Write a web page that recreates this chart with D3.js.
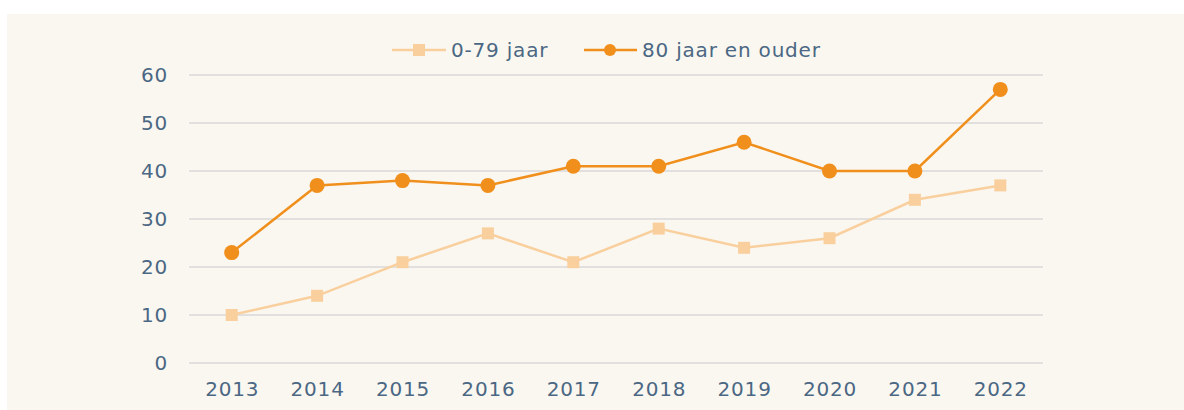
<!DOCTYPE html>
<html>
<head>
<meta charset="utf-8">
<script src="https://cdn.jsdelivr.net/npm/d3@7"></script>
<style>
  html, body { margin: 0; padding: 0; background: #ffffff; }
  svg { display: block; }
  text { font-family: "DejaVu Sans", Verdana, sans-serif; fill: #4b6784; letter-spacing: 0.8px; }
</style>
</head>
<body>
<svg id="chart" width="1184" height="410"></svg>
<script>
const years = ["2013","2014","2015","2016","2017","2018","2019","2020","2021","2022"];
const young = [10, 14, 21, 27, 21, 28, 24, 26, 34, 37];
const old   = [23, 37, 38, 37, 41, 41, 46, 40, 40, 57];
const yTicks = [0, 10, 20, 30, 40, 50, 60];
const seriesNames = ["0-79 jaar", "80 jaar en ouder"];

const svg = d3.select("#chart");
const fontSize = 20;

// panel background
svg.append("rect")
  .attr("x", 7).attr("y", 14).attr("width", 1184 - 7).attr("height", 410 - 14)
  .attr("fill", "#faf7f0");

const x = d3.scalePoint().domain(years).range([189, 1043]).padding(0.5);
const y = d3.scaleLinear().domain([0, 60]).range([363, 75]);

// gridlines
svg.append("g").selectAll("line").data(yTicks).join("line")
  .attr("x1", 189).attr("x2", 1043)
  .attr("y1", d => y(d)).attr("y2", d => y(d))
  .attr("stroke", "#d9d9d9").attr("stroke-width", 1.5);

// y axis labels
const yAxis = svg.append("g").attr("transform", "translate(189,0)")
  .call(d3.axisLeft(y).tickValues(yTicks).tickSize(0).tickPadding(21));
yAxis.select(".domain").remove();
yAxis.selectAll("text").attr("font-size", fontSize).attr("fill", "#4b6784")
  .style("font-family", "'DejaVu Sans', Verdana, sans-serif");

// x axis labels
const xAxis = svg.append("g").attr("transform", "translate(0,363)")
  .call(d3.axisBottom(x).tickSize(0).tickPadding(19));
xAxis.select(".domain").remove();
xAxis.selectAll("text").attr("font-size", fontSize).attr("fill", "#4b6784")
  .style("font-family", "'DejaVu Sans', Verdana, sans-serif");

const line = d3.line().x((d, i) => x(years[i])).y(d => y(d));

const lightC = "#f9cf9e";
const darkC = "#f08f1c";

// 0-79 series
svg.append("path").datum(young)
  .attr("d", line).attr("fill", "none")
  .attr("stroke", lightC).attr("stroke-width", 2.5);
svg.append("g").selectAll("rect").data(young).join("rect")
  .attr("x", (d, i) => x(years[i]) - 6).attr("y", d => y(d) - 6)
  .attr("width", 12).attr("height", 12).attr("fill", lightC);

// 80+ series
svg.append("path").datum(old)
  .attr("d", line).attr("fill", "none")
  .attr("stroke", darkC).attr("stroke-width", 2.5);
svg.append("g").selectAll("circle").data(old).join("circle")
  .attr("cx", (d, i) => x(years[i])).attr("cy", d => y(d))
  .attr("r", 7.5).attr("fill", darkC);

// legend
const lg = svg.append("g");
lg.append("line").attr("x1", 392).attr("x2", 446).attr("y1", 50).attr("y2", 50)
  .attr("stroke", lightC).attr("stroke-width", 2.5);
lg.append("rect").attr("x", 413).attr("y", 44).attr("width", 12).attr("height", 12).attr("fill", lightC);
lg.append("text").attr("x", 451).attr("y", 50).attr("dy", "0.35em")
  .attr("font-size", fontSize).text(seriesNames[0]);

lg.append("line").attr("x1", 584).attr("x2", 637).attr("y1", 50).attr("y2", 50)
  .attr("stroke", darkC).attr("stroke-width", 2.5);
lg.append("circle").attr("cx", 610).attr("cy", 50).attr("r", 6).attr("fill", darkC);
lg.append("text").attr("x", 642).attr("y", 50).attr("dy", "0.35em")
  .attr("font-size", fontSize).text(seriesNames[1]);
</script>
</body>
</html>
